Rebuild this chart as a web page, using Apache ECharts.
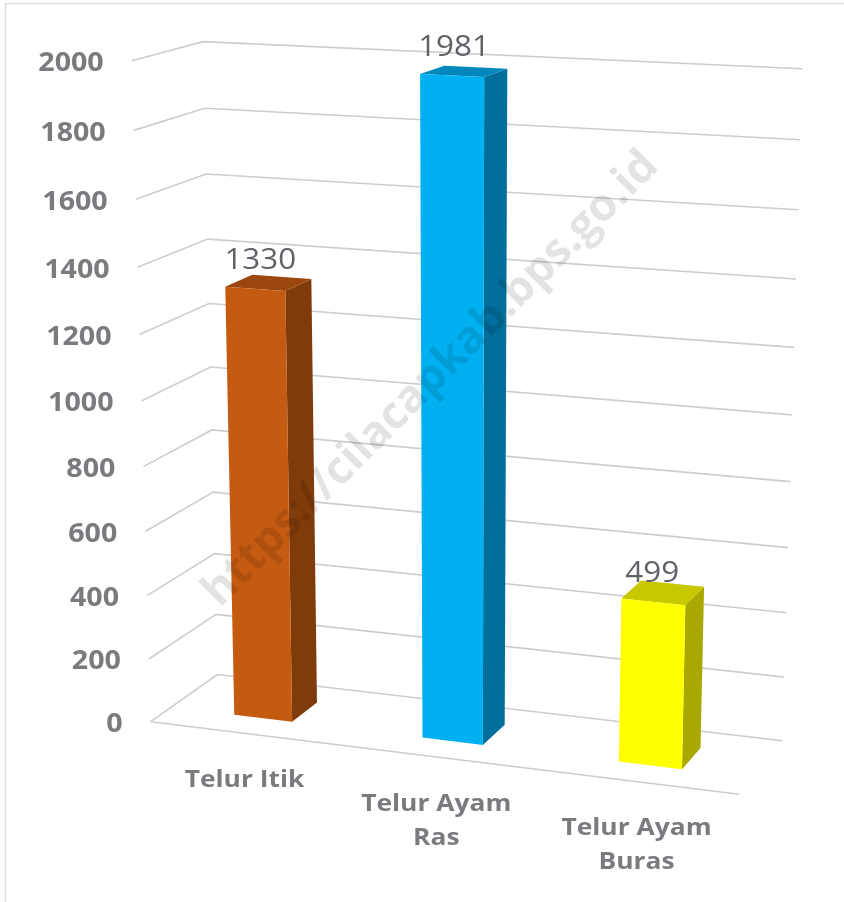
<!DOCTYPE html>
<html>
<head>
<meta charset="utf-8">
<style>html,body{margin:0;padding:0;background:#fff}#c{width:844px;height:902px}</style>
<script src="https://cdn.jsdelivr.net/npm/echarts@6/dist/echarts.min.js"></script>
</head>
<body>
<div id="c"></div>
<script>
const categories = ['Telur Itik', 'Telur Ayam\nRas', 'Telur Ayam\nBuras'];
const values = [1330, 1981, 499];
const tickValues = [0, 200, 400, 600, 800, 1000, 1200, 1400, 1600, 1800, 2000];
const frontColors = ['#C55A11', '#00B0F0', '#FFFF00'];
const sideColors = ['#7F3B0A', '#006F9C', '#A8A800'];
const topColors = ['#9C470D', '#0088BC', '#C8C800'];
const watermark = 'https://cilacapkab.bps.go.id';

// Camera calibration: box corner (x, value, depth) -> page pixel
const calibration = [
  [0,0,0,151,721],[1,0,0,740,794],[0,0,1,217,675],[1,0,1,782,741],
  [0,1,0,131,61],[0,1,1,205,41],[1,1,1,802,69],
  [0,.7,1,207,239],[0,.7,0,137,268],[1,.9,1,800.5,139],[1,.8,1,798,210],
  [1,.3,1,788,548],[1,.1,1,784.3,677],[0,.1,0,149,659]
];
function solve(A, b) {
  const n = b.length;
  for (let i = 0; i < n; i++) {
    let m = i;
    for (let r = i + 1; r < n; r++) if (Math.abs(A[r][i]) > Math.abs(A[m][i])) m = r;
    [A[i], A[m]] = [A[m], A[i]]; [b[i], b[m]] = [b[m], b[i]];
    for (let r = i + 1; r < n; r++) {
      const f = A[r][i] / A[i][i];
      for (let c = i; c < n; c++) A[r][c] -= f * A[i][c];
      b[r] -= f * b[i];
    }
  }
  const s = new Array(n).fill(0);
  for (let i = n - 1; i >= 0; i--) {
    let t = b[i];
    for (let c = i + 1; c < n; c++) t -= A[i][c] * s[c];
    s[i] = t / A[i][i];
  }
  return s;
}
const P = (function () {
  const rows = [], rhs = [];
  calibration.forEach(([X, Y, Z, u0, v0]) => {
    const u = u0 / 1000, v = v0 / 1000;
    rows.push([X, Y, Z, 1, 0, 0, 0, 0, -u * X, -u * Y, -u * Z]); rhs.push(u);
    rows.push([0, 0, 0, 0, X, Y, Z, 1, -v * X, -v * Y, -v * Z]); rhs.push(v);
  });
  const A = [], b = [];
  for (let i = 0; i < 11; i++) {
    A.push([]);
    b.push(rows.reduce((s, r, k) => s + r[i] * rhs[k], 0));
    for (let j = 0; j < 11; j++) A[i].push(rows.reduce((s, r) => s + r[i] * r[j], 0));
  }
  return solve(A, b);
})();
function project(X, Y, Z) {
  const w = P[8] * X + P[9] * Y + P[10] * Z + 1;
  return [1000 * (P[0] * X + P[1] * Y + P[2] * Z + P[3]) / w,
          1000 * (P[4] * X + P[5] * Y + P[6] * Z + P[7]) / w];
}
const BAR_WIDTH = 0.104, BAR_NEAR = 0.3, BAR_FAR = 0.7;
const GREY = '#7A7B7F';
const lineStyle = { stroke: '#CDCDCD', lineWidth: 1.6, fill: null };

function normV(cs, py) { return (cs.y + cs.height - py) / cs.height; }
function normX(cs, px) { return (px - cs.x) / cs.width; }

function renderGrid(params, api) {
  const cs = params.coordSys;
  const pt = api.coord([0, api.value(0)]);
  const v = normV(cs, pt[1]);
  const a = project(0, v, 0), b = project(0, v, 1), c = project(1, v, 1);
  const children = [{ type: 'polyline', shape: { points: [a, b, c] }, style: lineStyle }];
  if (api.value(0) === 0) {
    children.push({ type: 'line', shape: { x1: a[0], y1: a[1], x2: project(1, 0, 0)[0], y2: project(1, 0, 0)[1] }, style: lineStyle });
  }
  children.push({
    type: 'text', x: a[0] - 28, y: a[1] + 3, scaleX: 1.1,
    style: { x: 0, y: 0, text: String(api.value(0)), fill: GREY,
      font: 'bold 26px "Open Sans"', align: 'right', verticalAlign: 'middle' }
  });
  return { type: 'group', children };
}
function renderBar(params, api) {
  const cs = params.coordSys;
  const i = api.value(0);
  const top = api.coord([i, api.value(1)]);
  const x = normX(cs, top[0]), v = normV(cs, top[1]);
  const l = x - BAR_WIDTH / 2, r = x + BAR_WIDTH / 2;
  const poly = (pts, fill) => ({ type: 'polygon', shape: { points: pts.map(p => project(p[0], p[1], p[2])) }, style: { fill } });
  const label = project(x, v, BAR_NEAR);
  const foot = project(x, 0, 0);
  return { type: 'group', children: [
    poly([[r, 0, BAR_NEAR], [r, 0, BAR_FAR], [r, v, BAR_FAR], [r, v, BAR_NEAR]], sideColors[i]),
    poly([[l, v, BAR_NEAR], [l, v, BAR_FAR], [r, v, BAR_FAR], [r, v, BAR_NEAR]], topColors[i]),
    poly([[l, 0, BAR_NEAR], [r, 0, BAR_NEAR], [r, v, BAR_NEAR], [l, v, BAR_NEAR]], frontColors[i]),
    { type: 'text', x: label[0] + 6.5 - 9 * x, y: label[1] - 28, scaleX: 1.08,
      style: { x: 0, y: 0, text: String(api.value(1)), fill: '#606268',
        font: '29px "Open Sans"', align: 'center', verticalAlign: 'middle' } },
    { type: 'text', x: foot[0] + 1, y: foot[1] + 30, scaleX: 1.1,
      style: { x: 0, y: 0, text: categories[i], fill: GREY,
        font: 'bold 24px "Open Sans"', lineHeight: 34, align: 'center', verticalAlign: 'top' } }
  ] };
}

const chart = echarts.init(document.getElementById('c'), null, { renderer: 'canvas' });
chart.setOption({
  animation: false,
  backgroundColor: '#fff',
  grid: { left: 0, right: 0, top: 0, bottom: 0 },
  xAxis: { type: 'category', data: categories, show: false },
  yAxis: { type: 'value', min: 0, max: 2000, interval: 200, show: false },
  graphic: [
    { type: 'polyline', silent: true, z: 0, shape: { points: [[5.5, 902], [5.5, 3.5], [844, 3.5]] },
      style: { stroke: '#DEDEDE', lineWidth: 1.5, fill: null } },
    { type: 'text', silent: true, z: 100, x: 431, y: 379, rotation: Math.PI / 4,
      style: { text: watermark, font: 'bold 45px "Open Sans"', fill: 'rgba(0,0,0,0.11)',
        align: 'center', verticalAlign: 'middle' } }
  ],
  series: [
    { type: 'custom', z: 1, coordinateSystem: 'cartesian2d', clip: false, silent: true,
      data: tickValues.map(t => [t]), encode: { y: 0 }, renderItem: renderGrid },
    { type: 'custom', z: 2, coordinateSystem: 'cartesian2d', clip: false, silent: true,
      data: values.map((v, i) => [i, v]), encode: { x: 0, y: 1 }, renderItem: renderBar }
  ]
});
</script>
</body>
</html>
